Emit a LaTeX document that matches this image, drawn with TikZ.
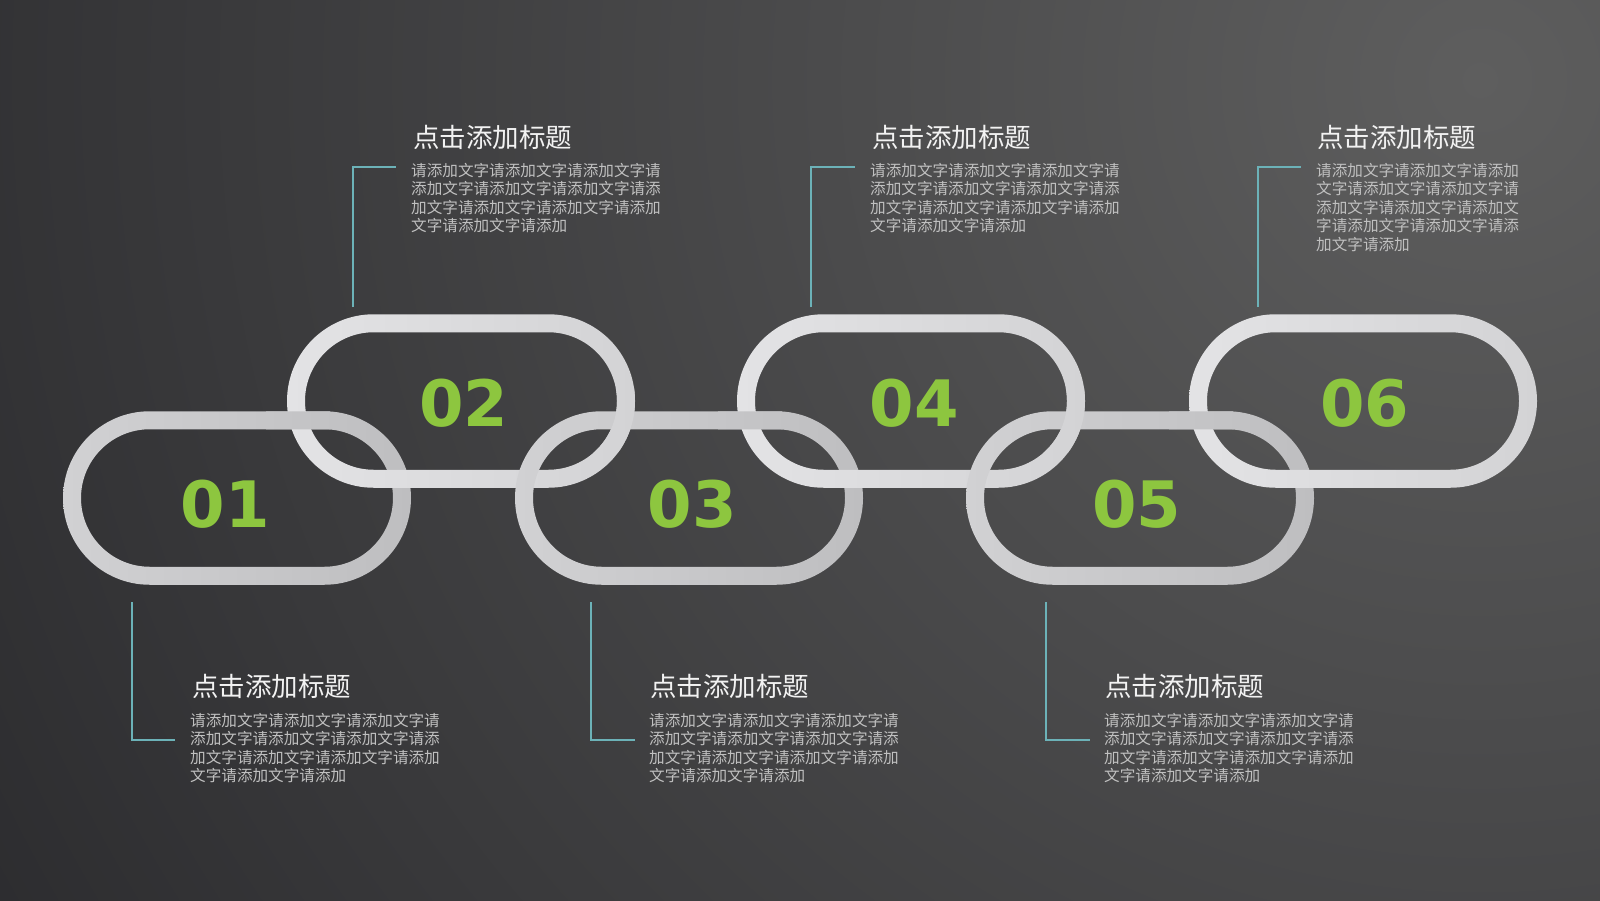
\documentclass[tikz,border=0pt]{standalone}
\usepackage{fontspec}
\newfontfamily\cjk{Noto Sans CJK SC}
\newfontfamily\numfont{DejaVu Sans}
\definecolor{bgdark}{HTML}{27272A}
\definecolor{bglight}{HTML}{5E5E5E}
\definecolor{oddL}{HTML}{D1D1D3}
\definecolor{oddR}{HTML}{BEBEC0}
\definecolor{evenL}{HTML}{E3E3E5}
\definecolor{evenR}{HTML}{D3D3D5}
\definecolor{teal}{HTML}{6CB2B8}
\definecolor{numgreen}{HTML}{8DC63F}
\definecolor{titlecol}{HTML}{F2F2F2}
\definecolor{bodycol}{HTML}{C0C0C0}
\newcommand\linkring[2]{%
  (#1-174,#2-86.75) [rounded corners=86.75pt] rectangle (#1+174,#2+86.75)
  [rounded corners=68.75pt] (#1-156,#2-68.75) rectangle (#1+156,#2+68.75)}
\newcommand\bodysixteen[3]{%
  \foreach \t [count=\k from 0] in {请添加文字请添加文字请添加文字请,添加文字请添加文字请添加文字请添,加文字请添加文字请添加文字请添加,文字请添加文字请添加}
    \node[bodytext] (#1-\k) at (#2,#3+18.5*\k) {\t};}
\newcommand\bodythirteen[3]{%
  \foreach \t [count=\k from 0] in {请添加文字请添加文字请添加,文字请添加文字请添加文字请,添加文字请添加文字请添加文,字请添加文字请添加文字请添,加文字请添加}
    \node[bodytext] (#1-\k) at (#2,#3+18.5*\k) {\t};}
\begin{document}
\begin{tikzpicture}[x=1pt,y=-1pt,
  oddring/.style={even odd rule,left color=oddL,right color=oddR},
  evenring/.style={even odd rule,left color=evenL,right color=evenR},
  num/.style={inner sep=0pt,anchor=center,text=numgreen,font=\numfont\bfseries\fontsize{64}{64}\selectfont},
  titletext/.style={inner sep=0pt,anchor=base west,text=titlecol,font=\cjk\fontsize{26.5}{30}\selectfont},
  bodytext/.style={inner sep=0pt,anchor=base west,text=bodycol,font=\cjk\fontsize{15.6}{18.5}\selectfont},
  bracket/.style={draw=teal,line width=2pt}]
\useasboundingbox (0,0) rectangle (1600,900);
\fill[bgdark] (0,0) rectangle (1600,900);
\begin{scope}
  \clip (0,0) rectangle (1600,900);
  \shade[inner color=bglight,outer color=bgdark] (1480,80) circle[radius=1900pt];
\end{scope}
% chain links
\shade[oddring] \linkring{237}{498};
\shade[evenring] \linkring{461}{401};
\shade[oddring] \linkring{689}{498};
\shade[evenring] \linkring{911}{401};
\shade[oddring] \linkring{1140}{498};
\shade[evenring] \linkring{1363}{401};
% interlocking overlays
\begin{scope}\clip (266,388) rectangle (330,452); \shade[oddring] \linkring{237}{498}; \end{scope}
\begin{scope}\clip (592,388) rectangle (656,452); \shade[evenring] \linkring{461}{401}; \end{scope}
\begin{scope}\clip (718,388) rectangle (782,452); \shade[oddring] \linkring{689}{498}; \end{scope}
\begin{scope}\clip (1042,388) rectangle (1106,452); \shade[evenring] \linkring{911}{401}; \end{scope}
\begin{scope}\clip (1169,388) rectangle (1233,452); \shade[oddring] \linkring{1140}{498}; \end{scope}
% numbers
\node[num] (n1) at (225,504.6) {01};
\node[num] (n2) at (463.8,403) {02};
\node[num] (n3) at (692.3,504.6) {03};
\node[num] (n4) at (914.3,403) {04};
\node[num] (n5) at (1136.7,504.6) {05};
\node[num] (n6) at (1364.8,403) {06};
% brackets
\coordinate (k2a) at (353,307); \coordinate (k2b) at (353,167); \coordinate (k2c) at (396,167);
\coordinate (k4a) at (811,307); \coordinate (k4b) at (811,167); \coordinate (k4c) at (855,167);
\coordinate (k6a) at (1258,307); \coordinate (k6b) at (1258,167); \coordinate (k6c) at (1301,167);
\coordinate (k1a) at (132,602); \coordinate (k1b) at (132,740); \coordinate (k1c) at (175,740);
\coordinate (k3a) at (591,602); \coordinate (k3b) at (591,740); \coordinate (k3c) at (635,740);
\coordinate (k5a) at (1046,602); \coordinate (k5b) at (1046,740); \coordinate (k5c) at (1090,740);
\draw[bracket] (k2a) -- (k2b) -- (k2c);
\draw[bracket] (k4a) -- (k4b) -- (k4c);
\draw[bracket] (k6a) -- (k6b) -- (k6c);
\draw[bracket] (k1a) -- (k1b) -- (k1c);
\draw[bracket] (k3a) -- (k3b) -- (k3c);
\draw[bracket] (k5a) -- (k5b) -- (k5c);
% titles
\node[titletext] (t2) at (413,147.8) {点击添加标题};
\node[titletext] (t4) at (872,147.8) {点击添加标题};
\node[titletext] (t6) at (1317,147.8) {点击添加标题};
\node[titletext] (t1) at (192,696.8) {点击添加标题};
\node[titletext] (t3) at (650,696.8) {点击添加标题};
\node[titletext] (t5) at (1105,696.8) {点击添加标题};
% body texts
\bodysixteen{d2}{411}{176.2}
\bodysixteen{d4}{870}{176.2}
\bodythirteen{d6}{1316}{176.2}
\bodysixteen{d1}{190}{726.2}
\bodysixteen{d3}{649}{726.2}
\bodysixteen{d5}{1104}{726.2}
\end{tikzpicture}
\end{document}
